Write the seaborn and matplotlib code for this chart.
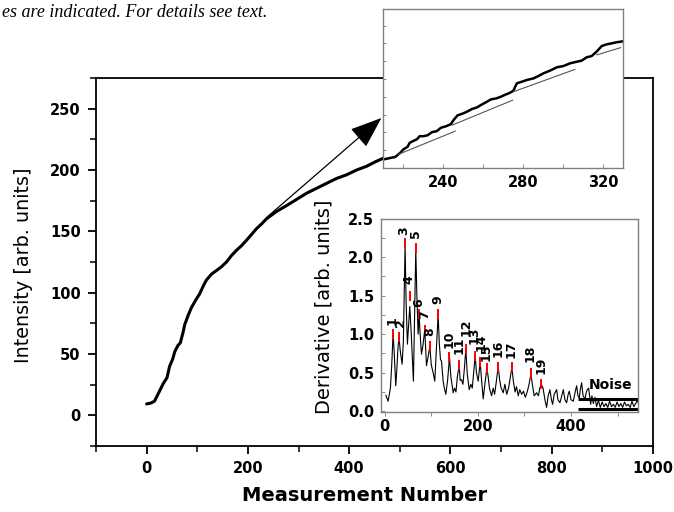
import matplotlib
matplotlib.use("Agg")
import matplotlib.pyplot as plt
import seaborn as sns
import pandas as pd
from matplotlib.ticker import MultipleLocator, NullFormatter, FormatStrFormatter

# ---------------- data ----------------
main_x = [0, 8.3, 15.5, 25.8, 33, 40.2, 45.4, 51.6, 55.7, 61.9, 66.5, 72.2, 75.3, 82.5, 88.7, 97,
          104.7, 111.4, 117.6, 127.9, 137.7, 147.5, 157.8, 167.1, 177.4, 186.7, 197, 206.3, 216.6,
          227, 236.2, 255.8, 276.5, 296.1, 315.7, 335.3, 354.9, 374.5, 394.6, 414.7, 434.3, 450.8,
          467.3, 484.9]
main_y = [9.3, 10, 11.5, 20, 26, 30.6, 40, 46, 52, 57, 59, 68, 74, 82, 88, 94, 99, 105, 110, 115,
          118, 121, 125, 130, 134.5, 138, 142.6, 147, 152, 156, 160, 166, 171, 176, 181, 185, 189,
          193, 196, 200, 203, 206.5, 209.6, 213]

zoom_x = [210.0, 213.7, 216.1, 218.6, 220.3, 222.3, 223.3, 225.3, 227.0, 228.3, 230.3, 232.3, 234.4,
          236.9, 238.9, 241.6, 243.9, 245.2, 247.2, 249.9, 251.9, 254.4, 256.9, 259.4, 261.9, 263.9,
          266.5, 268.8, 271.0, 273.5, 275.1, 276.8, 279.3, 281.8, 285.1, 287.6, 290.1, 293.4, 296.8,
          300.1, 303.4, 306.7, 309.2, 311.7, 314.2, 316.7, 319.2, 321.7, 324.2, 326.7, 330.0]
zoom_y = [5.3, 6.3, 6.9, 9.5, 11.8, 13.3, 15.8, 17.1, 18.1, 20.0, 20.0, 20.6, 22.5, 23.2, 25.3, 26.3,
          27.6, 30.1, 33.1, 34.3, 35.4, 37.1, 38.1, 40.0, 41.7, 43.2, 43.8, 44.8, 46.1, 47.4, 48.6,
          53.3, 54.3, 55.4, 56.4, 57.9, 59.6, 61.3, 63.4, 64.2, 65.9, 66.9, 67.6, 69.7, 70.5, 73.3,
          76.8, 77.9, 78.5, 79.2, 79.8]

fit_x0 = [217.8, 244.4, 275.1, 316.7]
fit_x1 = [246.1, 274.8, 305.9, 328.7]
fit_y0 = [8.6, 26.9, 48.0, 71.2]
fit_y1 = [23.2, 42.7, 62.1, 75.8]

deriv_x = [2.2, 7.2, 12.2, 15, 17.9, 20, 23.7, 26, 28.7, 30.8, 33, 37.3, 40, 43.7, 46, 48.7, 51, 53.8,
           57, 61.6, 64, 66.7, 69, 71.7, 73.8, 76, 78.9, 82, 86.0, 88, 89.6, 93, 96.8, 100, 104,
           107.5, 110, 114.7, 117, 119.7, 122, 125.4, 128, 131.2, 135, 139.1, 142, 147, 150, 153,
           156, 159.9, 162, 164.9, 168, 171, 174.2, 177, 181.4, 185, 188, 191, 194.3, 197, 200.7,
           205, 208, 211.5, 215, 219.4, 222, 225, 229.4, 233, 236, 240, 243.7, 247, 250, 254.5,
           258, 262, 266, 270, 273.1, 276, 280, 283, 286.7, 290, 294, 298, 302, 306, 310, 314,
           317, 321, 326.2, 330, 333, 336.2, 340, 344, 347.7, 351, 354.8, 358, 360.6, 364, 369.2,
           372, 376.3, 380, 383.5, 387, 390.7, 394, 396.4, 400, 405, 409, 412.2, 415, 417.9, 420,
           422.9, 426, 430.1, 433, 435.1, 438, 442.3, 445, 448, 451.6, 455, 459, 463, 467, 471,
           475, 479, 483, 487, 491, 495, 499, 503, 507, 511, 515, 519, 523, 527, 531, 535, 539,
           543, 545]
deriv_y = [0.21, 0.13, 0.30, 0.6, 1.00, 0.8, 0.33, 0.55, 0.85, 0.96, 0.80, 0.61, 0.9, 2.16, 1.4,
           0.87, 1.1, 1.36, 1.0, 0.39, 1.2, 2.10, 1.5, 1.00, 1.25, 1.0, 0.74, 0.85, 1.06, 0.8, 0.59,
           0.7, 0.84, 0.6, 0.5, 0.39, 0.7, 1.26, 0.9, 0.67, 0.65, 0.39, 0.3, 0.22, 0.4, 0.70, 0.45,
           0.24, 0.3, 0.25, 0.45, 0.60, 0.4, 0.41, 0.35, 0.55, 0.81, 0.5, 0.28, 0.35, 0.3, 0.5,
           0.72, 0.5, 0.39, 0.64, 0.4, 0.16, 0.35, 0.56, 0.45, 0.3, 0.20, 0.3, 0.22, 0.4, 0.58,
           0.4, 0.3, 0.24, 0.35, 0.22, 0.3, 0.45, 0.57, 0.4, 0.25, 0.32, 0.20, 0.28, 0.22, 0.26,
           0.18, 0.25, 0.35, 0.49, 0.35, 0.2, 0.24, 0.2, 0.3, 0.35, 0.3, 0.15, 0.05, 0.2, 0.28,
           0.15, 0.09, 0.22, 0.28, 0.15, 0.11, 0.2, 0.28, 0.15, 0.11, 0.22, 0.26, 0.15, 0.13,
           0.25, 0.33, 0.2, 0.17, 0.28, 0.37, 0.2, 0.16, 0.25, 0.28, 0.3, 0.09, 0.2, 0.1, 0.18,
           0.06, 0.14, 0.05, 0.12, 0.06, 0.10, 0.05, 0.13, 0.06, 0.09, 0.05, 0.12, 0.06, 0.1,
           0.05, 0.12, 0.07, 0.09, 0.05, 0.13, 0.06, 0.1, 0.14, 0.1]

peak_x = [17.9, 30.8, 43.7, 53.8, 66.7, 73.8, 86.0, 96.8, 114.7, 139.1, 159.9, 174.2, 194.3, 205.0,
          219.4, 243.7, 273.1, 314.0, 336.2]
peak_y = [1.04, 1.00, 2.22, 1.53, 2.16, 1.30, 1.10, 0.88, 1.30, 0.74, 0.64, 0.85, 0.76, 0.68,
          0.60, 0.62, 0.61, 0.53, 0.39]
peak_labels = [str(i) for i in range(1, 20)]
label_x = [15.5, 34.0, 40.9, 53, 66, 73, 86.7, 97.5, 114.7, 138.4, 159, 174, 192, 206.5, 217.5,
           243, 272.4, 312.5, 334.8]
label_y = [1.17, 1.15, 2.34, 1.71, 2.31, 1.41, 1.25, 1.03, 1.45, 0.94, 0.85, 1.09, 0.99, 0.90,
           0.77, 0.82, 0.80, 0.75, 0.60]

noise_x = [415.8, 545]
noise_hi = 0.164
noise_lo = 0.035

# ---------------- style ----------------
sns.set_style("ticks")
plt.rcParams['font.family'] = ['DejaVu Sans']
plt.rcParams.update({'axes.linewidth': 1.3, 'text.color': 'black', 'axes.labelcolor': 'black',
                     'xtick.color': 'black', 'ytick.color': 'black', 'axes.edgecolor': 'black'})

fig = plt.figure(figsize=(6.74, 5.12), dpi=100)

# main axes
ax = fig.add_axes([0.1424, 0.1289, 0.8264, 0.7188])
df_main = pd.DataFrame({'x': main_x, 'y': main_y})
sns.lineplot(data=df_main, x='x', y='y', ax=ax, color='black', lw=2.2, sort=False, estimator=None)
ax.set_xlim(-100, 1000)
ax.set_ylim(-25, 275)
ax.xaxis.set_major_locator(MultipleLocator(200))
ax.xaxis.set_minor_locator(MultipleLocator(100))
ax.yaxis.set_major_locator(MultipleLocator(50))
ax.yaxis.set_minor_locator(MultipleLocator(25))
ax.tick_params(which='major', length=6, width=1.3, labelsize=10.5, direction='out', pad=5,
               colors='black')
ax.tick_params(which='minor', length=4, width=1.1, direction='out', colors='black')
for lab in ax.get_xticklabels() + ax.get_yticklabels():
    lab.set_fontweight('bold')
ax.set_xlabel('Measurement Number', fontsize=14, fontweight='bold', color='black')
ax.set_ylabel('Intensity [arb. units]', fontsize=13.8, color='black')
ax.xaxis.set_label_coords(0.483, -0.109)
ax.yaxis.set_label_coords(-0.113, 0.49)
for s in ax.spines.values():
    s.set_visible(True)
    s.set_color('black')

ax.annotate('', xy=(463.8, 242.4), xytext=(236.2, 161),
            arrowprops=dict(arrowstyle='-|>,head_length=0.4,head_width=0.15', lw=0.9,
                            color='black', mutation_scale=50, shrinkA=0, shrinkB=0),
            annotation_clip=False)

# zoom inset (top)
ax1 = fig.add_axes([0.5682, 0.672, 0.3566, 0.310])
ax1.set_facecolor('white')
df_zoom = pd.DataFrame({'x': zoom_x, 'y': zoom_y})
sns.lineplot(data=df_zoom, x='x', y='y', ax=ax1, color='black', lw=1.8, sort=False, estimator=None)
for i in range(len(fit_x0)):
    ax1.plot([fit_x0[i], fit_x1[i]], [fit_y0[i], fit_y1[i]], color='#555555', lw=0.8)
ax1.set_xlim(210, 330)
ax1.set_ylim(0, 100)
ax1.xaxis.set_major_locator(MultipleLocator(40))
ax1.xaxis.set_minor_locator(MultipleLocator(20))
ax1.yaxis.set_major_locator(MultipleLocator(11.2))
ax1.yaxis.set_major_formatter(NullFormatter())
ax1.tick_params(which='both', direction='in', length=3, width=0.6, color='#777777',
                labelcolor='black', labelsize=10.5, pad=5)
ax1.tick_params(axis='y', length=2)
for lab in ax1.get_xticklabels():
    lab.set_fontweight('bold')
ax1.set_xlabel('')
ax1.set_ylabel('')
for s in ax1.spines.values():
    s.set_visible(True)
    s.set_color('#808080')
    s.set_linewidth(1.0)

# derivative inset
ax2 = fig.add_axes([0.5653, 0.1953, 0.3820, 0.3779])
ax2.set_facecolor('white')
df_der = pd.DataFrame({'x': deriv_x, 'y': deriv_y})
sns.lineplot(data=df_der, x='x', y='y', ax=ax2, color='black', lw=0.8, sort=False, estimator=None)
ax2.plot(peak_x, [v - 0.04 for v in peak_y], ls='none', marker='|', color='red',
         markersize=7, mew=1.4)
for t, lx, ly in zip(peak_labels, label_x, label_y):
    ax2.text(lx, ly, t, rotation=90, ha='center', va='center', fontsize=9, fontweight='bold',
             color='black')
ax2.plot(noise_x, [noise_hi, noise_hi], color='black', lw=2.2, solid_capstyle='butt')
ax2.plot(noise_x, [noise_lo, noise_lo], color='black', lw=2.2, solid_capstyle='butt')
ax2.text(484, 0.34, 'Noise', ha='center', va='center', fontsize=10, fontweight='bold',
         color='black')
ax2.set_xlim(-8, 545)
ax2.set_ylim(-0.01, 2.5)
ax2.xaxis.set_major_locator(MultipleLocator(200))
ax2.xaxis.set_minor_locator(MultipleLocator(100))
ax2.yaxis.set_major_locator(MultipleLocator(0.5))
ax2.yaxis.set_minor_locator(MultipleLocator(0.25))
ax2.yaxis.set_major_formatter(FormatStrFormatter('%.1f'))
ax2.tick_params(axis='y', which='both', direction='in', length=3, width=0.6, color='#777777',
                labelcolor='black', labelsize=10.5, pad=5)
ax2.tick_params(axis='x', which='both', direction='out', length=3, width=0.6, color='#777777',
                labelcolor='black', labelsize=10.5, pad=2)
for lab in ax2.get_xticklabels() + ax2.get_yticklabels():
    lab.set_fontweight('bold')
ax2.set_xlabel('')
ax2.set_ylabel('Derivative [arb. units]', fontsize=14, color='black')
ax2.yaxis.set_label_coords(-0.186, 0.545)
for s in ax2.spines.values():
    s.set_visible(True)
    s.set_color('#808080')
    s.set_linewidth(1.0)

fig.text(0.003, 0.966, 'es are indicated. For details see text.', family='Liberation Serif',
         style='italic', fontsize=13, ha='left', va='baseline', color='black')

fig.savefig('out.png', dpi=100)
